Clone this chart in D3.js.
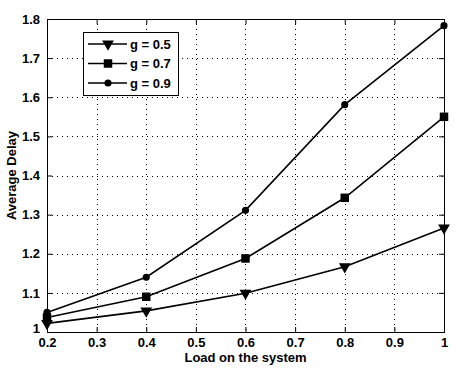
<!DOCTYPE html>
<html>
<head>
<meta charset="utf-8">
<script src="https://cdn.jsdelivr.net/npm/d3@7"></script>
<style>
  body { margin: 0; background: #fff; }
  text { font-family: "Liberation Sans", Arial, sans-serif; font-weight: bold; fill: #000; }
</style>
</head>
<body>
<div id="chart"></div>
<script>
// Load values on the x axis
const loads = [0.2, 0.4, 0.6, 0.8, 1.0];

// Average delay for each g
const delayG05 = [1.022, 1.054, 1.099, 1.167, 1.266];
const delayG07 = [1.037, 1.090, 1.188, 1.343, 1.550];
const delayG09 = [1.050, 1.140, 1.311, 1.581, 1.783];

const seriesNames = ["g = 0.5", "g = 0.7", "g = 0.9"];
const seriesMarkers = ["triangle", "square", "circle"];

const xTicks = [0.2, 0.3, 0.4, 0.5, 0.6, 0.7, 0.8, 0.9, 1];
const yTicks = [1, 1.1, 1.2, 1.3, 1.4, 1.5, 1.6, 1.7, 1.8];

const width = 456, height = 374;
const margin = { left: 47, right: 12, top: 19, bottom: 42 };

const svg = d3.select("#chart").append("svg")
    .attr("width", width)
    .attr("height", height);

const x = d3.scaleLinear().domain([0.2, 1]).range([margin.left, width - margin.right]);
const y = d3.scaleLinear().domain([1, 1.8]).range([height - margin.bottom, margin.top]);

// Dotted grid
const grid = svg.append("g").attr("stroke", "#000").attr("stroke-width", 1)
    .attr("stroke-dasharray", "1,4").attr("shape-rendering", "crispEdges");
xTicks.slice(1, -1).forEach(t => {
    grid.append("line").attr("x1", Math.round(x(t)) + 0.5).attr("x2", Math.round(x(t)) + 0.5)
        .attr("y1", y(1.8)).attr("y2", y(1));
});
yTicks.slice(1, -1).forEach(t => {
    grid.append("line").attr("y1", Math.round(y(t)) + 0.5).attr("y2", Math.round(y(t)) + 0.5)
        .attr("x1", x(0.2)).attr("x2", x(1));
});

// Axes with inward ticks (box on)
const fmt = d => d3.format("")(+d.toFixed(1));
svg.append("g").attr("transform", `translate(0,${y(1)})`)
    .call(d3.axisBottom(x).tickValues(xTicks).tickSize(-5).tickPadding(6).tickFormat(fmt))
    .call(g => g.select(".domain").remove());
svg.append("g").attr("transform", `translate(0,${y(1.8)})`)
    .call(d3.axisTop(x).tickValues(xTicks).tickSize(-5).tickFormat(""))
    .call(g => g.select(".domain").remove());
svg.append("g").attr("class", "yaxis").attr("transform", `translate(${x(0.2)},0)`)
    .call(d3.axisLeft(y).tickValues(yTicks).tickSize(-5).tickPadding(7).tickFormat(fmt))
    .call(g => g.select(".domain").remove());
svg.append("g").attr("transform", `translate(${x(1)},0)`)
    .call(d3.axisRight(y).tickValues(yTicks).tickSize(-5).tickFormat(""))
    .call(g => g.select(".domain").remove());

svg.selectAll(".tick text").attr("font-size", 13).attr("font-family", "Liberation Sans, Arial, sans-serif")
    .attr("font-weight", "bold");
svg.selectAll(".tick line").attr("stroke", "#000");
// lift the bottom "1" label a little, as in the original
svg.selectAll(".yaxis .tick text").filter(d => d === 1).attr("dy", "0.05em");

svg.append("rect")
    .attr("x", x(0.2) + 0.5).attr("y", y(1.8) + 0.5)
    .attr("width", x(1) - x(0.2)).attr("height", y(1) - y(1.8))
    .attr("fill", "none").attr("stroke", "#000").attr("stroke-width", 1)
    .attr("shape-rendering", "crispEdges");

// Axis titles
svg.append("text")
    .attr("x", (x(0.2) + x(1)) / 2).attr("y", 362)
    .attr("text-anchor", "middle").attr("font-size", 13)
    .text("Load on the system");
svg.append("text")
    .attr("transform", `translate(16,${(y(1) + y(1.8)) / 2}) rotate(-90)`)
    .attr("text-anchor", "middle").attr("font-size", 13)
    .text("Average Delay");

// Markers
const markerSymbol = {
    triangle: d3.symbol().type(d3.symbolTriangle).size(60),
    square: d3.symbol().type(d3.symbolSquare).size(72),
    circle: d3.symbol().type(d3.symbolCircle).size(40)
};
function drawMarker(g, kind, cx, cy) {
    const rot = kind === "triangle" ? " rotate(180)" : "";
    g.append("path")
        .attr("d", markerSymbol[kind]())
        .attr("transform", `translate(${cx},${cy})${rot}`)
        .attr("fill", "#000");
}

const allSeries = [delayG05, delayG07, delayG09];
const line = d3.line().x((d, i) => x(loads[i])).y(d => y(d));

allSeries.forEach((vals, si) => {
    const g = svg.append("g");
    g.append("path").datum(vals)
        .attr("d", line)
        .attr("fill", "none").attr("stroke", "#000").attr("stroke-width", 1.6);
    vals.forEach((v, i) => drawMarker(g, seriesMarkers[si], x(loads[i]), y(v)));
});

// Legend
const legend = svg.append("g");
legend.append("rect")
    .attr("x", 83.5).attr("y", 32.5).attr("width", 95).attr("height", 63)
    .attr("fill", "#fff").attr("stroke", "#000").attr("stroke-width", 1);
seriesNames.forEach((name, i) => {
    const ly = 44 + i * 19.5;
    legend.append("line")
        .attr("x1", 88).attr("x2", 127).attr("y1", ly).attr("y2", ly)
        .attr("stroke", "#000").attr("stroke-width", 1.6);
    drawMarker(legend, seriesMarkers[i], 108, ly);
    legend.append("text")
        .attr("x", 130).attr("y", ly + 4.5).attr("font-size", 13)
        .text(name);
});
</script>
</body>
</html>
